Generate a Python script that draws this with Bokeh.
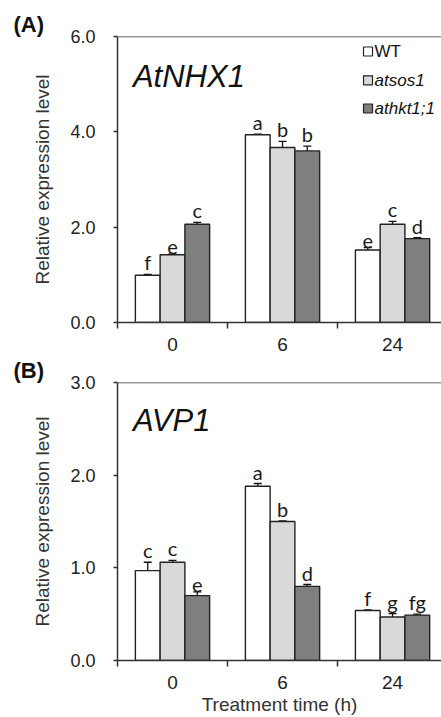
from bokeh.plotting import figure
from bokeh.models import (ColumnDataSource, Whisker, TeeHead, FixedTicker,
                          NumeralTickFormatter, Span, Label, Range1d)
from bokeh.layouts import column
from bokeh.embed import file_html
from bokeh.resources import INLINE

# ---------------- data ----------------
times = ["0", "6", "24"]
genotypes = ["WT", "atsos1", "athkt1;1"]
colors = ["#ffffff", "#d9d9d9", "#7f7f7f"]

# Panel A : AtNHX1
nhx1_wt = [0.99, 3.94, 1.52]
nhx1_wt_err = [0.02, 0.01, 0.05]
nhx1_sos1 = [1.42, 3.67, 2.06]
nhx1_sos1_err = [0.02, 0.13, 0.06]
nhx1_hkt1 = [2.06, 3.60, 1.76]
nhx1_hkt1_err = [0.04, 0.10, 0.02]
nhx1_wt_let = ["f", "a", "e"]
nhx1_sos1_let = ["e", "b", "c"]
nhx1_hkt1_let = ["c", "b", "d"]

# Panel B : AVP1
avp1_wt = [0.97, 1.88, 0.54]
avp1_wt_err = [0.09, 0.03, 0.006]
avp1_sos1 = [1.06, 1.50, 0.47]
avp1_sos1_err = [0.02, 0.006, 0.035]
avp1_hkt1 = [0.70, 0.80, 0.49]
avp1_hkt1_err = [0.04, 0.02, 0.01]
avp1_wt_let = ["c", "a", "f"]
avp1_sos1_let = ["c", "b", "g"]
avp1_hkt1_let = ["e", "d", "fg"]

FONT = "Liberation Sans"
LFONT = "Lato"
AX = "#333333"
BAR_W = 0.225


def make_panel(means, errs, lets, ymax, yticks, gene, tag, height,
               b_top, b_bottom, xlabel, gene_y, legend):
    p = figure(width=441, height=height, output_backend="svg",
               toolbar_location=None,
               x_range=Range1d(0, 2.945), y_range=Range1d(0, ymax),
               min_border_left=117, min_border_right=0,
               min_border_top=b_top, min_border_bottom=b_bottom)
    p.outline_line_color = None
    p.grid.visible = False
    p.background_fill_color = "white"

    for j in range(3):
        xs = [i + 0.5 + (j - 1) * BAR_W for i in range(len(times))]
        up = [m + e for m, e in zip(means[j], errs[j])]
        lo = [m - e for m, e in zip(means[j], errs[j])]
        src = ColumnDataSource(dict(x=xs, top=means[j], upper=up, lower=lo,
                                    let=lets[j]))
        p.vbar(x="x", top="top", bottom=0, width=BAR_W, source=src,
               fill_color=colors[j], line_color="#222222", line_width=1.4)
        p.add_layout(Whisker(source=src, base="x", upper="upper", lower="lower",
                             line_color="#111111", line_width=1.3,
                             upper_head=TeeHead(size=8, line_width=1.3, line_color="#111111"),
                             lower_head=TeeHead(size=8, line_width=1.3, line_color="#111111")))
        p.text(x="x", y="upper", text="let", source=src, text_align="center",
               text_baseline="bottom", text_font_size="20px",
               text_font={"value": LFONT}, text_color="#1a1a1a")

    # axes
    xa = p.xaxis[0]
    xa.ticker = FixedTicker(ticks=[i + 0.5 for i in range(len(times))],
                            minor_ticks=list(range(len(times) + 1)))
    xa.major_label_overrides = {i + 0.5: t for i, t in enumerate(times)}
    xa.major_tick_out = 0
    xa.major_tick_in = 0
    xa.minor_tick_out = 6
    xa.minor_tick_in = 0
    xa.major_label_standoff = 9
    ya = p.yaxis[0]
    ya.ticker = FixedTicker(ticks=yticks, minor_ticks=[])
    ya.formatter = NumeralTickFormatter(format="0.0")
    ya.major_tick_out = 4
    ya.major_tick_in = 0
    ya.major_label_standoff = 18
    ya.axis_label = "Relative expression level"
    ya.axis_label_standoff = 14
    for ax in (xa, ya):
        ax.axis_line_color = AX
        ax.axis_line_width = 1.5
        ax.major_tick_line_color = AX
        ax.major_tick_line_width = 1.5
        ax.minor_tick_line_color = AX
        ax.minor_tick_line_width = 1.5
        ax.major_label_text_font = FONT
        ax.major_label_text_color = "#222222"
        ax.axis_label_text_font = FONT
        ax.axis_label_text_font_size = "19px"
        ax.axis_label_text_font_style = "normal"
        ax.axis_label_text_color = "#333333"
    ya.major_label_text_font_size = "18px"
    xa.major_label_text_font_size = "19px"
    if xlabel:
        xa.axis_label = xlabel
        xa.axis_label_standoff = 2

    # top frame line
    p.add_layout(Span(location=ymax, dimension="width", line_color=AX,
                      line_width=1.5))

    # gene name
    p.add_layout(Label(x=0.14, y=gene_y, text=gene, text_font=FONT,
                       text_font_size="31px", text_font_style="italic",
                       text_color="#111111", text_baseline="alphabetic"))
    # panel tag
    p.title.text = tag
    p.title.align = "left"
    p.title.offset = -104
    p.title.standoff = 0
    p.title.text_font = FONT
    p.title.text_font_size = "22px"
    p.title.text_font_style = "bold"
    p.title.text_color = "#111111"

    if legend:
        ly = [5.685, 5.08, 4.49]
        lsrc = ColumnDataSource(dict(x=[2.277] * 3, y=ly, c=colors))
        p.scatter(x="x", y="y", marker="square", size=9, fill_color="c",
                  line_color="#222222", line_width=1.2, source=lsrc)
        p.text(x=[2.336] * 3, y=ly, text=genotypes, text_baseline="middle",
               text_font={"value": FONT}, text_font_size="17px",
               text_font_style=["normal", "italic", "italic"],
               text_color="#111111")
    return p


pa = make_panel([nhx1_wt, nhx1_sos1, nhx1_hkt1],
                [nhx1_wt_err, nhx1_sos1_err, nhx1_hkt1_err],
                [nhx1_wt_let, nhx1_sos1_let, nhx1_hkt1_let],
                6.0, [0, 2, 4, 6], "AtNHX1", "(A)", 355, 36, 33, None,
                5.16, True)
pb = make_panel([avp1_wt, avp1_sos1, avp1_hkt1],
                [avp1_wt_err, avp1_sos1_err, avp1_hkt1_err],
                [avp1_wt_let, avp1_sos1_let, avp1_hkt1_let],
                3.0, [0, 1, 2, 3], "AVP1", "(B)", 362, 20, 55,
                "Treatment time (h)", 2.59, False)

layout = column(pa, pb, spacing=0)
open("out.html", "w").write(file_html(layout, INLINE))
